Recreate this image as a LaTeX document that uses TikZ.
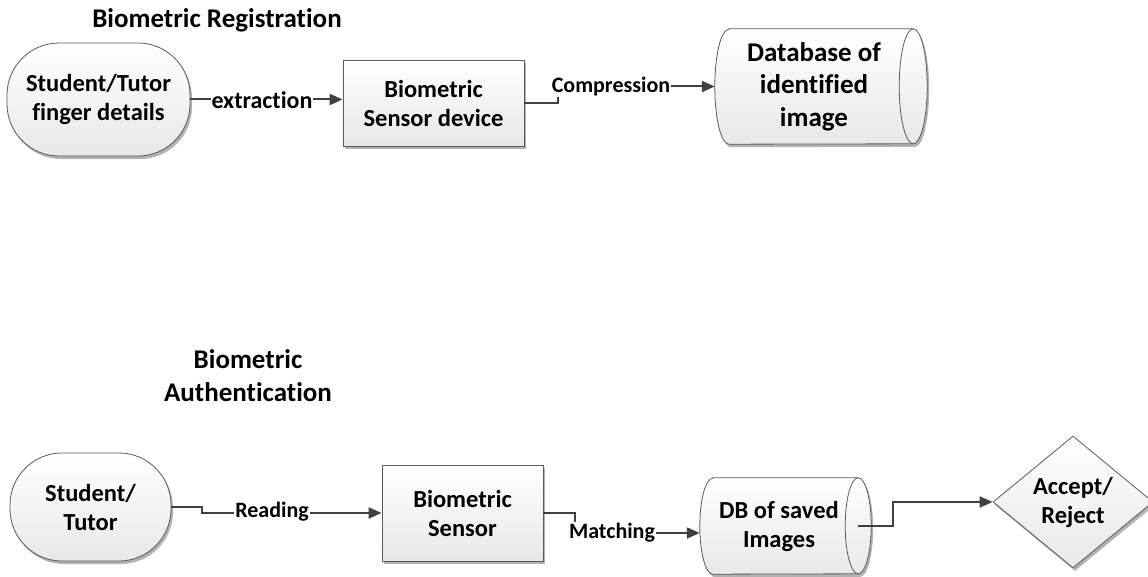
\documentclass[tikz,border=0pt]{standalone}
\usepackage{fontspec}
\setmainfont{Carlito}[Ligatures={NoCommon}]
\usetikzlibrary{arrows.meta,shapes.geometric,shadows,calc,backgrounds}
\definecolor{wire}{HTML}{404040}
\definecolor{edge}{HTML}{5A5A5A}
\definecolor{shade}{HTML}{E8E8E8}
\tikzset{
  boxfont/.style={font=\bfseries\fontsize{24.5}{29}\selectfont},
  blockfill/.style={draw=edge, line width=0.8pt, top color=white, bottom color=shade,
    drop shadow={shadow xshift=2pt, shadow yshift=-3pt, fill=black!30, opacity=1}},
  terminal/.style={blockfill, rectangle, rounded corners=52pt, boxfont, align=center, inner sep=0pt},
  process/.style={blockfill, rectangle, boxfont, align=center, inner sep=0pt},
  decision/.style={blockfill, diamond, aspect=1.2, boxfont, align=center, inner sep=0pt},
  drumtext/.style={rectangle, inner sep=0pt, align=center},
  flow/.style={draw=wire, line width=2pt, -{Triangle[length=13pt,width=11pt]}},
  flowlabel/.style={fill=white, inner sep=1pt, font=\bfseries\fontsize{22}{26}\selectfont},
  heading/.style={font=\bfseries\fontsize{27}{33}\selectfont, align=center},
}
% horizontal drum (stored data): #1 node, #2 end radius, #3 half height
\newcommand\drum[3]{%
  \path[blockfill] ($(#1.north west)+(#2,0)$) -- (#1.north east)
    arc[start angle=90, end angle=-90, x radius=#2pt, y radius=#3pt]
    -- ($(#1.south west)+(#2,0)$)
    arc[start angle=270, end angle=90, x radius=#2pt, y radius=#3pt] -- cycle;
  \draw[draw=edge, line width=0.8pt] (#1.north east)
    arc[start angle=90, end angle=270, x radius=#2pt, y radius=#3pt];
}
\begin{document}
\begin{tikzpicture}[x=1pt, y=-1pt]
\useasboundingbox (0,0) rectangle (1148,577);

% ---- registration
\node[heading] (t1) at (217,20) {Biometric Registration};
\node[terminal, minimum width=183pt, minimum height=113pt] (s1) at (98.5,99.5)
  {Student/Tutor\\finger details};
\node[process, minimum width=181pt, minimum height=86pt] (b1) at (433.5,103)
  {Biometric\\Sensor device};
\node[drumtext, minimum width=198pt, minimum height=115pt,
  font=\bfseries\fontsize{27}{32.5}\selectfont] (db1) at (814,86.5)
  {Database of\\identified\\image};
\begin{scope}[on background layer]
  \drum{db1}{14}{57.5}
\end{scope}

\draw[flow] (s1.east) -- (s1.east -| b1.west);
\node[flowlabel, font=\bfseries\fontsize{24}{28}\selectfont] (l1) at (262,100) {extraction};
\draw[flow] (b1.east) -- ++(34,0) |- (db1.west);
\node[flowlabel] (l2) at (611,87) {Compression};

% ---- authentication
\node[heading] (t2) at (248,376) {Biometric\\Authentication};
\node[terminal, minimum width=161pt, minimum height=108pt] (s2) at (90.5,507)
  {Student/\\Tutor};
\node[process, minimum width=161pt, minimum height=96pt] (b2) at (462.5,513)
  {Biometric\\Sensor};
\node[drumtext, minimum width=158pt, minimum height=96pt, boxfont] (db2) at (779,526)
  {DB of saved\\Images};
\begin{scope}[on background layer]
  \drum{db2}{13}{48}
\end{scope}
\node[decision, minimum width=160pt, minimum height=132pt] (d) at (1073,502)
  {Accept/\\Reject};

\draw[flow] (s2.east) -- ++(31,0) |- (b2.west);
\node[flowlabel] (l3) at (272,512) {Reading};
\draw[flow] (b2.east) -- ++(32,0) |- ($(db2.west)+(0,7)$);
\node[flowlabel] (l4) at (612,533) {Matching};
\draw[flow] (db2.east) -- ++(35,0) |- (d.west);
\end{tikzpicture}
\end{document}
